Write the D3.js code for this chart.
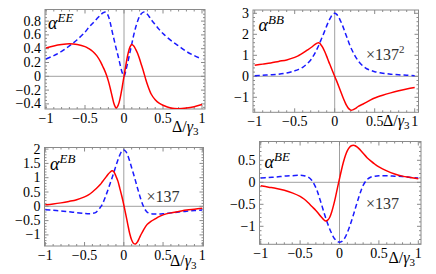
<!DOCTYPE html>
<html>
<head>
<meta charset="utf-8">
<title>alpha</title>
<script src="https://cdn.jsdelivr.net/npm/d3@7"></script>
<style>
  body { margin: 0; background: #fff; }
</style>
</head>
<body>
<script>
// detuning grid, shared by every curve
var xs = [-1, -0.9, -0.8, -0.7, -0.6, -0.5, -0.45, -0.4, -0.35, -0.3, -0.275, -0.25, -0.225, -0.2, -0.175, -0.15, -0.125, -0.1, -0.075, -0.05, -0.025,
          0, 0.025, 0.05, 0.075, 0.1, 0.125, 0.15, 0.175, 0.2, 0.225, 0.25, 0.275, 0.3, 0.35, 0.4, 0.45, 0.5, 0.6, 0.7, 0.8, 0.9, 1];

// alpha^EE
var eeRed = [0.41, 0.44, 0.46, 0.47, 0.46, 0.43, 0.40, 0.36, 0.30, 0.21, 0.15, 0.09, 0.02, -0.07, -0.18, -0.30, -0.41, -0.46, -0.42, -0.32, -0.17,
             0, 0.17, 0.32, 0.42, 0.46, 0.44, 0.39, 0.33, 0.25, 0.16, 0.07, -0.03, -0.12, -0.26, -0.34, -0.39, -0.42, -0.46, -0.47, -0.46, -0.44, -0.41];
var eeBlue = [0.25, 0.30, 0.36, 0.44, 0.53, 0.64, 0.71, 0.77, 0.83, 0.89, 0.915, 0.93, 0.92, 0.87, 0.77, 0.64, 0.52, 0.40, 0.29, 0.17, 0.06,
              0, 0.09, 0.21, 0.34, 0.47, 0.60, 0.71, 0.80, 0.87, 0.91, 0.93, 0.925, 0.90, 0.82, 0.75, 0.68, 0.62, 0.52, 0.44, 0.36, 0.30, 0.25];

// alpha^BB (x 137^2)
var bbRed = [0.53, 0.58, 0.63, 0.71, 0.78, 0.90, 0.99, 1.10, 1.23, 1.36, 1.43, 1.51, 1.57, 1.60, 1.52, 1.38, 1.18, 0.95, 0.70, 0.47, 0.23,
             0, -0.23, -0.47, -0.72, -0.97, -1.20, -1.40, -1.54, -1.61, -1.60, -1.55, -1.49, -1.42, -1.33, -1.23, -1.12, -1.03, -0.90, -0.79, -0.69, -0.60, -0.53];
var bbBlue = [0.03, 0.05, 0.07, 0.10, 0.16, 0.26, 0.33, 0.43, 0.58, 0.78, 0.92, 1.08, 1.27, 1.47, 1.70, 1.92, 2.16, 2.40, 2.62, 2.81, 2.95,
              3.0, 2.95, 2.81, 2.62, 2.40, 2.14, 1.88, 1.62, 1.38, 1.18, 1.00, 0.84, 0.70, 0.50, 0.36, 0.28, 0.22, 0.15, 0.10, 0.07, 0.05, 0.03];

// alpha^EB (x 137)
var ebRed = [0.05, 0.08, 0.12, 0.17, 0.23, 0.33, 0.40, 0.50, 0.62, 0.76, 0.85, 0.94, 1.03, 1.12, 1.19, 1.24, 1.20, 1.05, 0.88, 0.62, 0.35,
             0.05, -0.28, -0.62, -0.95, -1.18, -1.30, -1.32, -1.24, -1.10, -0.96, -0.83, -0.72, -0.63, -0.52, -0.44, -0.36, -0.30, -0.23, -0.18, -0.13, -0.10, -0.07];
var ebBlue = [-0.12, -0.14, -0.16, -0.19, -0.22, -0.25, -0.26, -0.25, -0.20, -0.04, 0.06, 0.22, 0.40, 0.59, 0.79, 0.99, 1.20, 1.42, 1.62, 1.80, 1.93,
              1.97, 1.92, 1.78, 1.58, 1.35, 1.12, 0.88, 0.63, 0.40, 0.18, 0.0, -0.13, -0.21, -0.26, -0.27, -0.27, -0.26, -0.23, -0.20, -0.17, -0.15, -0.13];

// alpha^BE (x 137)
var beRed = [-0.08, -0.11, -0.14, -0.18, -0.24, -0.32, -0.38, -0.46, -0.55, -0.64, -0.69, -0.75, -0.80, -0.85, -0.88, -0.86, -0.80, -0.68, -0.52, -0.33, -0.12,
             0.08, 0.28, 0.46, 0.61, 0.72, 0.79, 0.83, 0.84, 0.83, 0.80, 0.76, 0.71, 0.66, 0.56, 0.48, 0.41, 0.35, 0.26, 0.19, 0.14, 0.11, 0.08];
var beBlue = [0.10, 0.11, 0.12, 0.14, 0.15, 0.16, 0.15, 0.12, 0.04, -0.12, -0.24, -0.38, -0.52, -0.67, -0.81, -0.94, -1.06, -1.16, -1.25, -1.31, -1.35,
              -1.36, -1.35, -1.31, -1.24, -1.14, -1.02, -0.89, -0.75, -0.60, -0.45, -0.31, -0.18, -0.07, 0.06, 0.12, 0.14, 0.15, 0.15, 0.14, 0.13, 0.11, 0.10];

// tick labels
var xTicks = [-1, -0.5, 0, 0.5, 1];
var eeTicks = [-0.4, -0.2, 0, 0.2, 0.4, 0.6, 0.8];
var bbTicks = [-1, 0, 1, 2, 3];
var ebTicks = [-1, -0.5, 0, 0.5, 1, 1.5, 2];
var beTicks = [-1, -0.5, 0, 0.5];

var panels = [
    { red: eeRed, blue: eeBlue, yTicks: eeTicks, minor: 0.05, sup: "EE", factor: null,
      frame: [45, 205, 9.5, 109], xr: [46, 202], yd: [0, 0.8], yr: [76.3, 21.1],
      alpha: [48, 29], fac: null, dl: [172, 131.5] },
    { red: bbRed, blue: bbBlue, yTicks: bbTicks, minor: 0.2, sup: "BB", factor: "2",
      frame: [253, 418.5, 10, 112.3], xr: [254.7, 414.7], yd: [0, 3], yr: [76.3, 13.3],
      alpha: [258.5, 31], fac: [366, 60], dl: [383, 126] },
    { red: ebRed, blue: ebBlue, yTicks: ebTicks, minor: 0.1, sup: "EB", factor: "",
      frame: [44.5, 203.5, 147.5, 246], xr: [45.3, 202.3], yd: [0, 2], yr: [206.3, 149.1],
      alpha: [50, 169.5], fac: [146.5, 202], dl: [170, 266] },
    { red: beRed, blue: beBlue, yTicks: beTicks, minor: 0.1, sup: "BE", factor: "",
      frame: [259.5, 421, 141.5, 244.3], xr: [260.7, 418.3], yd: [0, -1], yr: [182.3, 226.3],
      alpha: [264.5, 168], fac: [366, 208.5], dl: [388.5, 263] }
];

var svg = d3.select("body").append("svg")
    .attr("width", 436)
    .attr("height", 274)
    .attr("font-family", "'Liberation Serif', 'Times New Roman', serif");

var fmt = d3.format("~g");
var gray = "#8a8a8a";

panels.forEach(function (p, k) {
    var x = d3.scaleLinear().domain([-1, 1]).range(p.xr);
    var y = d3.scaleLinear().domain(p.yd).range(p.yr);
    var f = p.frame;
    var g = svg.append("g");

    var yLo = y.invert(f[3]), yHi = y.invert(f[2]);

    // clip
    svg.append("clipPath").attr("id", "c" + k)
        .append("rect").attr("x", f[0]).attr("y", f[2])
        .attr("width", f[1] - f[0]).attr("height", f[3] - f[2]);

    // zero axes
    g.append("line").attr("x1", f[0]).attr("x2", f[1]).attr("y1", y(0)).attr("y2", y(0))
        .attr("stroke", "#a0a0a0").attr("stroke-width", 1);
    g.append("line").attr("x1", x(0)).attr("x2", x(0)).attr("y1", f[2]).attr("y2", f[3])
        .attr("stroke", "#a0a0a0").attr("stroke-width", 1);

    // ticks on all four sides, pointing inward
    var xMaj = d3.range(-10, 11, 5).map(function (v) { return v / 10; });
    var xMin = d3.range(-10, 11).map(function (v) { return v / 10; });
    xMin.forEach(function (v) {
        var len = xMaj.indexOf(v) >= 0 ? 4 : 2;
        g.append("line").attr("x1", x(v)).attr("x2", x(v)).attr("y1", f[3]).attr("y2", f[3] - len).attr("stroke", gray);
        g.append("line").attr("x1", x(v)).attr("x2", x(v)).attr("y1", f[2]).attr("y2", f[2] + len).attr("stroke", gray);
    });
    var step = p.yTicks[1] - p.yTicks[0];
    var n0 = Math.ceil(yLo / p.minor - 1e-6), n1 = Math.floor(yHi / p.minor + 1e-6);
    d3.range(n0, n1 + 1).forEach(function (i) {
        var v = i * p.minor;
        var r = v / step;
        var len = Math.abs(r - Math.round(r)) < 1e-6 ? 4 : 2;
        g.append("line").attr("x1", f[0]).attr("x2", f[0] + len).attr("y1", y(v)).attr("y2", y(v)).attr("stroke", gray);
        g.append("line").attr("x1", f[1]).attr("x2", f[1] - len).attr("y1", y(v)).attr("y2", y(v)).attr("stroke", gray);
    });

    // frame
    g.append("rect").attr("x", f[0]).attr("y", f[2])
        .attr("width", f[1] - f[0]).attr("height", f[3] - f[2])
        .attr("fill", "none").attr("stroke", gray).attr("stroke-width", 1);

    // tick labels
    g.selectAll(".xl").data(xTicks).enter().append("text")
        .attr("x", function (d) { return x(d); })
        .attr("y", f[3] + 13.5)
        .attr("text-anchor", "middle")
        .attr("font-size", 14)
        .text(function (d) { return fmt(d); });
    g.selectAll(".yl").data(p.yTicks).enter().append("text")
        .attr("x", f[0] - 4)
        .attr("y", function (d) { return y(d) + 4.5; })
        .attr("text-anchor", "end")
        .attr("font-size", 14)
        .text(function (d) { return fmt(d); });

    // curves
    var line = d3.line()
        .x(function (d) { return x(d[0]); })
        .y(function (d) { return y(d[1]); })
        .curve(d3.curveCatmullRom.alpha(0.5));
    var cg = g.append("g").attr("clip-path", "url(#c" + k + ")");
    cg.append("path").datum(d3.zip(xs, p.blue))
        .attr("d", line).attr("fill", "none")
        .attr("stroke", "#1a1aff").attr("stroke-width", 1.5)
        .attr("stroke-dasharray", "5,3");
    cg.append("path").datum(d3.zip(xs, p.red))
        .attr("d", line).attr("fill", "none")
        .attr("stroke", "#ff0000").attr("stroke-width", 1.5);

    // alpha label
    var a = g.append("text").attr("x", p.alpha[0]).attr("y", p.alpha[1]).attr("font-size", 18);
    a.append("tspan").attr("font-style", "italic").text("α");
    a.append("tspan").attr("font-style", "italic").attr("font-size", 13).attr("dy", -7).text(p.sup);

    // scale factor
    if (p.fac) {
        var t = g.append("text").attr("x", p.fac[0]).attr("y", p.fac[1]).attr("font-size", 16)
            .attr("fill", "#333");
        t.append("tspan").text("×137");
        if (p.factor) t.append("tspan").attr("font-size", 11).attr("dy", -7).text(p.factor);
    }

    // x-axis label
    var dl = g.append("text").attr("x", p.dl[0]).attr("y", p.dl[1]).attr("font-size", 16);
    dl.append("tspan").text("Δ/");
    dl.append("tspan").attr("font-style", "italic").text("γ");
    dl.append("tspan").attr("font-size", 11).attr("dy", 3).text("3");
});
</script>
</body>
</html>
